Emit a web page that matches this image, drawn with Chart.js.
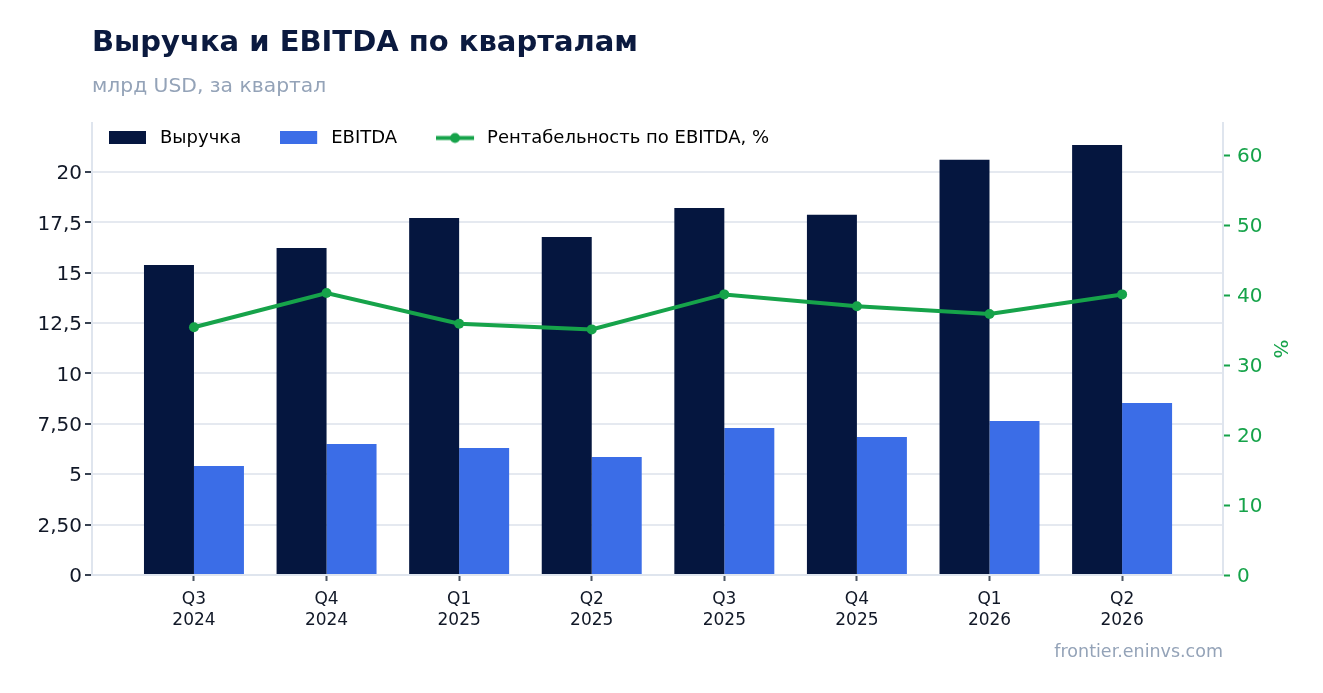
<!DOCTYPE html>
<html>
<head>
<meta charset="utf-8">
<script src="https://cdn.jsdelivr.net/npm/chart.js@4"></script>
<style>
html, body { margin: 0; padding: 0; background: #ffffff; }
#c { display: block; }
</style>
</head>
<body>
<canvas id="c" width="1323" height="693"></canvas>
<script>
// ---- data ----
const categories = ['Q3 2024', 'Q4 2024', 'Q1 2025', 'Q2 2025', 'Q3 2025', 'Q4 2025', 'Q1 2026', 'Q2 2026'];
const revenue = [15.38, 16.23, 17.72, 16.77, 18.21, 17.87, 20.60, 21.34];
const ebitda = [5.41, 6.50, 6.30, 5.86, 7.30, 6.85, 7.64, 8.54];
const margin = [35.4, 40.3, 35.9, 35.1, 40.1, 38.4, 37.3, 40.1];
const leftTickValues = [0, 2.5, 5, 7.5, 10, 12.5, 15, 17.5, 20];
const leftTickLabels = ['0', '2,50', '5', '7,50', '10', '12,5', '15', '17,5', '20'];
const rightTickValues = [0, 10, 20, 30, 40, 50, 60];
const rightTickLabels = ['0', '10', '20', '30', '40', '50', '60'];
const seriesNames = ['Выручка', 'EBITDA', 'Рентабельность по EBITDA, %'];

const C_REV = '#05163f';
const C_EBITDA = '#3b6de7';
const C_GREEN = '#16a34a';
const C_GRID = '#e5e9f0';
const C_BORDER = '#dfe5ee';
const FONT = "'DejaVu Sans', sans-serif";
const LEGEND_FONT_SIZE = 18;

function makeRectIcon(color) {
  const cv = document.createElement('canvas');
  cv.width = 42; cv.height = 13;
  const g = cv.getContext('2d');
  g.fillStyle = color;
  g.fillRect(0, 0, 37, 13);
  return cv;
}
function makeLineIcon(color) {
  const cv = document.createElement('canvas');
  cv.width = 42; cv.height = 13;
  const g = cv.getContext('2d');
  g.strokeStyle = color;
  g.lineWidth = 4;
  g.beginPath(); g.moveTo(0, 6.5); g.lineTo(38, 6.5); g.stroke();
  g.fillStyle = color;
  g.beginPath(); g.arc(19, 6.5, 5, 0, Math.PI * 2); g.fill();
  return cv;
}
const icons = [makeRectIcon(C_REV), makeRectIcon(C_EBITDA), makeLineIcon(C_GREEN)];

const layoutPlugin = {
  id: 'layoutTweaks',
  afterLayout(chart) {
    const ca = chart.chartArea;
    chart.boxes.forEach(b => {
      if (b.options && typeof b.options.text === 'string') {
        b.left = ca.left;
      }
    });
    const lg = chart.legend;
    if (lg) {
      const pad = lg.options.labels.padding;
      lg.left = ca.left + 17 - pad;
      lg.top = ca.top + 15 - pad - LEGEND_FONT_SIZE / 2;
      lg.right = ca.right;
      lg.bottom = lg.top + 120;
      lg.width = lg.right - lg.left;
      lg.height = 120;
    }
  },
  afterDraw(chart) {
    const ctx = chart.ctx;
    const ca = chart.chartArea;
    ctx.save();
    ctx.font = '17.5px ' + FONT;
    ctx.fillStyle = '#94a3b8';
    ctx.textAlign = 'right';
    ctx.textBaseline = 'middle';
    ctx.fillText('frontier.eninvs.com', ca.right, ca.bottom + 77);
    ctx.restore();
  }
};

const toXY = arr => arr.map((v, i) => ({ x: i, y: v }));

new Chart(document.getElementById('c'), {
  type: 'bar',
  data: {
    datasets: [
      {
        type: 'line',
        label: seriesNames[2],
        data: toXY(margin),
        yAxisID: 'y1',
        borderColor: C_GREEN,
        backgroundColor: C_GREEN,
        borderWidth: 4,
        pointRadius: 5,
        pointBackgroundColor: C_GREEN,
        pointBorderWidth: 0,
        tension: 0,
        order: 0
      },
      {
        label: seriesNames[0],
        data: toXY(revenue),
        yAxisID: 'y',
        backgroundColor: C_REV,
        borderWidth: 0,
        order: 1,
        categoryPercentage: 0.754,
        barPercentage: 1
      },
      {
        label: seriesNames[1],
        data: toXY(ebitda),
        yAxisID: 'y',
        backgroundColor: C_EBITDA,
        borderWidth: 0,
        order: 2,
        categoryPercentage: 0.754,
        barPercentage: 1
      }
    ]
  },
  options: {
    responsive: false,
    animation: false,
    devicePixelRatio: 1,
    layout: { padding: 0 },
    plugins: {
      tooltip: { enabled: false },
      title: {
        display: true,
        text: 'Выручка и EBITDA по кварталам',
        align: 'start',
        color: '#0b1a3f',
        font: { family: FONT, size: 29, weight: 'bold', lineHeight: 1.2 },
        padding: { top: 25.6, bottom: 0 }
      },
      subtitle: {
        display: true,
        text: 'млрд USD, за квартал',
        align: 'start',
        color: '#94a3b8',
        font: { family: FONT, size: 20.3, lineHeight: 1.2 },
        padding: { top: 14.4, bottom: 22.8 }
      },
      legend: {
        display: true,
        position: 'top',
        align: 'start',
        maxHeight: 1,
        labels: {
          padding: 39,
          usePointStyle: true,
          pointStyleWidth: 42,
          boxHeight: 13,
          color: '#111827',
          font: { family: FONT, size: LEGEND_FONT_SIZE },
          generateLabels() {
            return [1, 2, 0].map((di, k) => ({
              text: seriesNames[k],
              pointStyle: icons[k],
              datasetIndex: di,
              hidden: false,
              fillStyle: 'rgba(0,0,0,0)',
              strokeStyle: 'rgba(0,0,0,0)',
              lineWidth: 0
            }));
          }
        }
      }
    },
    scales: {
      x: {
        type: 'linear',
        offset: false,
        min: -0.769,
        max: 7.761,
        afterBuildTicks(axis) { axis.ticks = categories.map((_, i) => ({ value: i })); },
        afterFit(axis) { axis.height = 118; },
        grid: {
          offset: false,
          drawOnChartArea: false,
          drawTicks: true,
          tickLength: 6,
          tickColor: '#4b5563',
          tickWidth: 2
        },
        border: { display: true, color: C_BORDER, width: 2 },
        ticks: {
          autoSkip: false,
          maxRotation: 0,
          minRotation: 0,
          padding: 8,
          color: '#111827',
          font: { family: FONT, size: 17, lineHeight: 1.25 },
          callback(v) { const c = categories[v]; return c ? c.split(' ') : ''; }
        }
      },
      y: {
        position: 'left',
        min: 0,
        max: 22.43,
        afterBuildTicks(axis) { axis.ticks = leftTickValues.map(v => ({ value: v })); },
        afterFit(axis) { axis.width = 92; },
        grid: {
          color: C_GRID,
          lineWidth: 2,
          drawTicks: true,
          tickLength: 7,
          tickColor: '#374151',
          tickWidth: 2
        },
        border: { display: true, color: C_BORDER, width: 2 },
        ticks: {
          padding: 3,
          labelOffset: 2,
          color: '#111827',
          font: { family: FONT, size: 20 },
          callback(v) { const i = leftTickValues.indexOf(v); return i >= 0 ? leftTickLabels[i] : ''; }
        }
      },
      y1: {
        position: 'right',
        min: 0,
        max: 64.6,
        afterBuildTicks(axis) { axis.ticks = rightTickValues.map(v => ({ value: v })); },
        afterFit(axis) { axis.width = 100; },
        grid: {
          drawOnChartArea: false,
          drawTicks: true,
          tickLength: 7,
          tickColor: C_GREEN,
          tickWidth: 2
        },
        border: { display: true, color: C_BORDER, width: 2 },
        ticks: {
          padding: 7,
          labelOffset: 2,
          color: C_GREEN,
          font: { family: FONT, size: 20 },
          callback(v) { const i = rightTickValues.indexOf(v); return i >= 0 ? rightTickLabels[i] : ''; }
        },
        title: {
          display: true,
          text: '%',
          color: C_GREEN,
          font: { family: FONT, size: 20 },
          padding: { top: 32, bottom: 0 }
        }
      }
    }
  },
  plugins: [layoutPlugin]
});
</script>
</body>
</html>
